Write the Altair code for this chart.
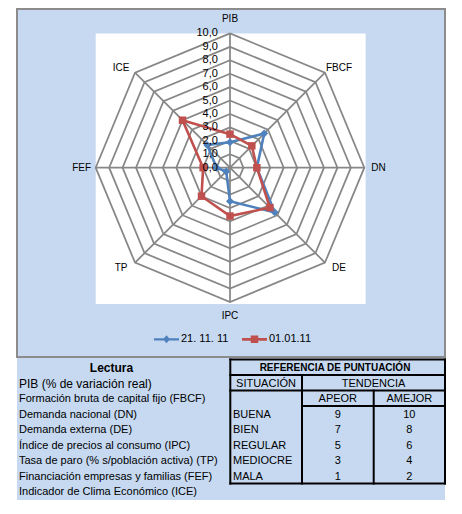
import altair as alt
import pandas as pd

# ---------------- data ----------------
categories = ["PIB", "FBCF", "DN", "DE", "IPC", "TP", "FEF", "ICE"]
series_names = ["21. 11. 11", "01.01.11"]
values_s1 = [1.9, 3.6, 2.0, 4.7, 2.5, 0.4, 1.0, 2.4]
values_s2 = [2.5, 2.3, 2.0, 4.2, 3.6, 3.0, 2.0, 5.0]
ring_levels = [1, 2, 3, 4, 5, 6, 7, 8, 9, 10]
tick_values = [0, 1, 2, 3, 4, 5, 6, 7, 8, 9, 10]
tick_labels = ["0,0", "1,0", "2,0", "3,0", "4,0", "5,0", "6,0", "7,0", "8,0", "9,0", "10,0"]

lectura_title = "Lectura"
lectura_items = [
    "PIB (% de variación real)",
    "Formación bruta de capital fijo (FBCF)",
    "Demanda nacional (DN)",
    "Demanda externa (DE)",
    "Índice de precios al consumo (IPC)",
    "Tasa de paro (% s/población activa) (TP)",
    "Financiación empresas y familias (FEF)",
    "Indicador de Clima Económico (ICE)",
]
ref_title = "REFERENCIA DE PUNTUACIÓN"
ref_head_1 = ["SITUACIÓN", "TENDENCIA"]
ref_head_2 = ["APEOR", "AMEJOR"]
situacion = ["BUENA", "BIEN", "REGULAR", "MEDIOCRE", "MALA"]
apeor = [9, 7, 5, 3, 1]
amejor = [10, 8, 6, 4, 2]

# ---------------- style ----------------
BLUE = "#4F81BD"
RED = "#C0504D"
LIGHT = "#C6D9F1"
GRID = "#878787"
FONT = "Liberation Sans"

W = 428
H1 = 348
H2 = 142
XS = alt.Scale(domain=[-15.86, 16.009], nice=False, zero=False)
YS = alt.Scale(domain=[-14.095, 11.817], nice=False, zero=False)

n = len(categories)
RMAX = max(ring_levels)
ANG = f"datum.k * 2 * PI / {n}"

# ---------------- radar tables ----------------
rows = []
for name, vals in zip(series_names, [values_s1, values_s2]):
    for k in range(n + 1):
        rows.append({"serie": name, "k": k, "cat": categories[k % n], "v": vals[k % n]})
series_df = pd.DataFrame(rows)

ring_df = pd.DataFrame([{"r": r, "k": k} for r in ring_levels for k in range(n + 1)])
spoke_df = pd.DataFrame([{"k": k, "cat": c} for k, c in enumerate(categories)])
tick_df = pd.DataFrame({"v": tick_values, "lab": tick_labels})


def X(field):
    return alt.X(field, type="quantitative", scale=XS, axis=None)


def Y(field):
    return alt.Y(field, type="quantitative", scale=YS, axis=None)


plot_bg = alt.Chart(pd.DataFrame({"r": [RMAX]})).transform_calculate(
    x1="-datum.r", x2="datum.r * 1.01", y1="datum.r", y2="-datum.r * 1.015"
).mark_rect(color="white").encode(x=X("x1"), x2="x2:Q", y=Y("y1"), y2="y2:Q")

rings = alt.Chart(ring_df).transform_calculate(
    x=f"datum.r * sin({ANG})", y=f"datum.r * cos({ANG})"
).mark_line(color=GRID, strokeWidth=1.75).encode(
    x=X("x"), y=Y("y"), detail="r:N", order="k:Q"
)

spokes = alt.Chart(spoke_df).transform_calculate(
    x0="0", y0="0", x1=f"{RMAX} * sin({ANG})", y1=f"{RMAX} * cos({ANG})"
).mark_rule(color=GRID, strokeWidth=1.75).encode(
    x=X("x0"), y=Y("y0"), x2="x1:Q", y2="y1:Q"
)

ticks = alt.Chart(tick_df).transform_calculate(x="-0.9").mark_text(
    align="right", baseline="middle", font=FONT, fontSize=11, color="black"
).encode(x=X("x"), y=Y("v"), text="lab:N")

series_layers = []
marker_shapes = ["diamond", "square"]
marker_sizes = [64, 56]
for name, col, shp, sz in zip(series_names, [BLUE, RED], marker_shapes, marker_sizes):
    base = alt.Chart(series_df).transform_filter(
        alt.datum.serie == name
    ).transform_calculate(
        x=f"datum.v * sin({ANG})", y=f"datum.v * cos({ANG})"
    )
    series_layers.append(
        base.mark_line(color=col, strokeWidth=2.6).encode(x=X("x"), y=Y("y"), order="k:Q")
    )
    series_layers.append(
        base.transform_filter(f"datum.k < {n}").mark_point(
            shape=shp, filled=True, opacity=1, color=col, size=sz
        ).encode(x=X("x"), y=Y("y"))
    )

axis_labels = alt.Chart(spoke_df).transform_calculate(
    s=f"sin({ANG})", c=f"cos({ANG})"
).transform_calculate(
    x="11.05 * datum.s + 0.6 * datum.s * abs(datum.c)",
    y="11.05 * datum.c - 0.75 * datum.c * abs(datum.s)",
).mark_text(align="center", baseline="middle", font=FONT, fontSize=10, color="black").encode(
    x=X("x"), y=Y("y"), text="cat:N"
)

# legend symbols: line with marker
path_diamond = "M-1,-0.09L1,-0.09L1,0.09L-1,0.09Z M0,-0.32L0.28,0L0,0.32L-0.28,0Z"
path_square = "M-1,-0.11L1,-0.11L1,0.11L-1,0.11Z M-0.3,-0.3L0.3,-0.3L0.3,0.3L-0.3,0.3Z"
leg_common = dict(
    title=None, orient="none", legendX=137, legendY=317.5, direction="horizontal",
    symbolSize=625, symbolStrokeWidth=0, symbolOpacity=1, labelFont=FONT, labelFontSize=11,
    labelColor="black", labelOffset=2, columnPadding=13, padding=0,
)
legend_layer = alt.Chart(series_df).transform_filter(f"datum.k < {n}").transform_calculate(
    x=f"datum.v * sin({ANG})", y=f"datum.v * cos({ANG})"
).mark_point(filled=True, opacity=0).encode(
    x=X("x"), y=Y("y"),
    color=alt.Color("serie:N", scale=alt.Scale(domain=series_names, range=[BLUE, RED]),
                    legend=alt.Legend(**leg_common)),
    shape=alt.Shape("serie:N", scale=alt.Scale(domain=series_names, range=[path_diamond, path_square]),
                    legend=alt.Legend(**leg_common)),
)

radar = alt.layer(
    plot_bg, rings, spokes, *series_layers, ticks, axis_labels, legend_layer
).properties(
    width=W, height=H1,
    view=alt.ViewBackground(fill=LIGHT, stroke="#8C8C8C", strokeWidth=2),
)

# ---------------- table ----------------
TX = alt.Scale(domain=[0, W], nice=False, zero=False)
TY = alt.Scale(domain=[-0.6, 8.561], reverse=True, nice=False, zero=False)

# layout (pixel columns of the reference table)
T_L, T_C1, T_C2, T_R = 213.3, 285.0, 356.7, 428.0
lines_df = pd.DataFrame([
    {"x": T_L, "x2": T_R, "y": -0.5, "y2": -0.5},
    {"x": T_L, "x2": T_R, "y": 0.5, "y2": 0.5},
    {"x": T_L, "x2": T_R, "y": 1.5, "y2": 1.5},
    {"x": T_C1, "x2": T_R, "y": 2.5, "y2": 2.5},
    {"x": T_L, "x2": T_R, "y": 7.5, "y2": 7.5},
    {"x": T_L, "x2": T_L, "y": -0.5, "y2": 7.5},
    {"x": T_R, "x2": T_R, "y": -0.5, "y2": 7.5},
    {"x": T_C1, "x2": T_C1, "y": 0.5, "y2": 7.5},
    {"x": T_C2, "x2": T_C2, "y": 1.5, "y2": 7.5},
])
table_lines = alt.Chart(lines_df).mark_rule(color="black", strokeWidth=2, strokeCap="square").encode(
    x=alt.X("x:Q", scale=TX, axis=None), x2="x2:Q",
    y=alt.Y("y:Q", scale=TY, axis=None), y2="y2:Q",
)


def ttext(df, xpix, align="left", size=11, bold=False, field="t"):
    return alt.Chart(df).mark_text(
        align=align, baseline="middle", font=FONT, fontSize=size,
        fontWeight="bold" if bold else "normal", color="black", dy=1,
    ).encode(x=alt.value(xpix), y=alt.Y("i:Q", scale=TY, axis=None), text=f"{field}:N")


lect_head = ttext(pd.DataFrame({"i": [0], "t": [lectura_title]}), 94.5, "center", 12, True)
lect_first = ttext(pd.DataFrame({"i": [1], "t": [lectura_items[0]]}), 2, "left", 12)
lect_rest = ttext(pd.DataFrame({"i": list(range(2, len(lectura_items) + 1)), "t": lectura_items[1:]}), 2, "left", 11)

ref_head = ttext(pd.DataFrame({"i": [0], "t": [ref_title]}), 318, "center", 10, True)
h1a = ttext(pd.DataFrame({"i": [1], "t": [ref_head_1[0]]}), 249, "center", 11)
h1b = ttext(pd.DataFrame({"i": [1], "t": [ref_head_1[1]]}), 356.5, "center", 11)
h2a = ttext(pd.DataFrame({"i": [2], "t": [ref_head_2[0]]}), 320.8, "center", 11)
h2b = ttext(pd.DataFrame({"i": [2], "t": [ref_head_2[1]]}), 392.3, "center", 11)

body_df = pd.DataFrame({"i": list(range(3, 3 + len(situacion))), "s": situacion,
                        "a": [str(v) for v in apeor], "b": [str(v) for v in amejor]})
sit_txt = ttext(body_df, 216, "left", 11, field="s")
ape_txt = ttext(body_df, 320.8, "center", 11, field="a")
ame_txt = ttext(body_df, 392.3, "center", 11, field="b")

table = alt.layer(
    table_lines, lect_head, lect_first, lect_rest, ref_head, h1a, h1b, h2a, h2b,
    sit_txt, ape_txt, ame_txt
).properties(
    width=W, height=H2,
    view=alt.ViewBackground(fill=LIGHT, strokeWidth=0),
)

chart = alt.vconcat(radar, table, spacing=0).properties(
    padding={"left": 8, "top": 0, "right": 0, "bottom": 0}
)

chart.save("out.html", embed_options={"renderer": "svg", "actions": False})
